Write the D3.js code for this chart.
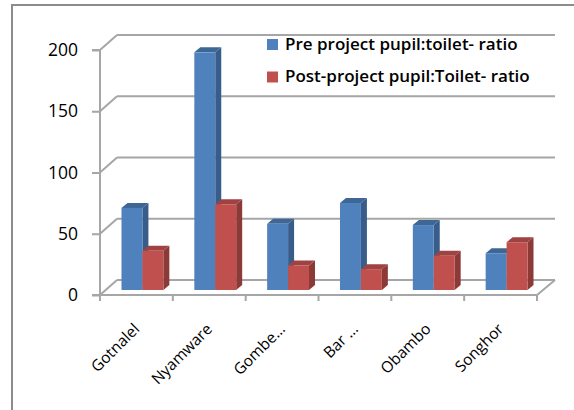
<!DOCTYPE html>
<html>
<head>
<meta charset="utf-8">
<script src="https://cdn.jsdelivr.net/npm/d3@7"></script>
<style>
  html, body { margin: 0; padding: 0; background: #fff; }
  svg { display: block; }
  text { font-family: "Open Sans", Lato, sans-serif; fill: #000; }
</style>
</head>
<body>
<svg id="chart" width="574" height="410"></svg>
<script>
// Pupil:toilet ratio per school, before and after the project
const schools = ["Gotnalel", "Nyamware", "Gombe…", "Bar …", "Obambo", "Songhor"];
const preProject = [67, 194, 54, 71, 53, 30];
const postProject = [32, 70, 20, 17, 28, 39];
const seriesNames = ["Pre project pupil:toilet- ratio", "Post-project pupil:Toilet- ratio"];
const yTicks = [0, 50, 100, 150, 200];

const frontColors = ["#4F81BD", "#C0504D"];
const sideColors = ["#385D8A", "#8C3A38"];
const topColors = ["#3E6796", "#9E4341"];

const svg = d3.select("#chart");

// outer chart frame (top and left edges)
svg.append("path")
  .attr("d", "M12,410 L12,5 L574,5")
  .attr("fill", "none").attr("stroke", "#8c8c8c").attr("stroke-width", 2);

// front plane geometry and depth offsets of the 3-D box
const x0 = 100, x1 = 537;
const wall = { dx: 17, dy: -15 };   // back wall offset
const barOff = { dx: 6, dy: -5 };   // bar front face offset
const barDepth = { dx: 6, dy: -5 }; // bar thickness

const y = d3.scaleLinear().domain([0, 200]).range([295, 50]);
const x = d3.scaleBand().domain(schools).range([x0, x1]);
const xs = d3.scaleBand().domain([0, 1]).range([0, x.bandwidth()]).paddingOuter(0.74).paddingInner(0);

const grid = svg.append("g").attr("stroke", "#a6a6a6").attr("stroke-width", 2).attr("fill", "none");

// back wall gridlines and left wall diagonals
yTicks.forEach(v => {
  grid.append("line")
    .attr("x1", x0 + wall.dx).attr("x2", x1 + wall.dx + 1)
    .attr("y1", y(v) + wall.dy).attr("y2", y(v) + wall.dy);
  grid.append("line")
    .attr("x1", x0).attr("y1", y(v))
    .attr("x2", x0 + wall.dx).attr("y2", y(v) + wall.dy);
});
// floor front edge and right edge
grid.append("path")
  .attr("d", `M${x0},${y(0)} L${x1},${y(0)} L${x1 + wall.dx + 1},${y(0) + wall.dy}`);

// value axis
const yAxis = d3.axisLeft(y).tickValues(yTicks).tickSize(8).tickPadding(14);
const ya = svg.append("g").attr("transform", `translate(${x0},0)`).call(yAxis);
ya.select(".domain").attr("stroke", "#a6a6a6").attr("stroke-width", 2).attr("d", `M-8,${y(200)}H0V${y(0)}H-8`);
ya.selectAll(".tick line").attr("stroke", "#a6a6a6").attr("stroke-width", 2);
ya.selectAll(".tick text").attr("font-size", 17.5).attr("font-family", "'Open Sans', sans-serif").attr("fill", "#000");

// category axis ticks
const xa = svg.append("g").attr("transform", `translate(0,${y(0)})`);
const bounds = schools.map((s, i) => x0 + i * x.step()).concat([x1]);
xa.selectAll("line").data(bounds).join("line")
  .attr("x1", d => d).attr("x2", d => d).attr("y1", 0).attr("y2", 6)
  .attr("stroke", "#a6a6a6").attr("stroke-width", 2);

// category labels
svg.append("g").selectAll("text").data(schools).join("text")
  .attr("transform", d => `translate(${x(d) + x.bandwidth() / 2 + 4},330) rotate(-45)`)
  .attr("text-anchor", "end")
  .attr("font-size", 15.5)
  .text(d => d);

// 3-D bars
const series = [preProject, postProject];
const bars = svg.append("g");
schools.forEach((s, i) => {
  series.forEach((vals, k) => {
    const v = vals[i];
    const left = x(s) + xs(k) + barOff.dx;
    const right = left + xs.bandwidth();
    const base = y(0) + barOff.dy;
    const top = y(v) + barOff.dy;
    const dx = barDepth.dx, dy = barDepth.dy;
    bars.append("path")
      .attr("d", `M${right},${top} L${right + dx},${top + dy} L${right + dx},${base + dy} L${right},${base} Z`)
      .attr("fill", sideColors[k]);
    bars.append("path")
      .attr("d", `M${left},${top} L${left + dx},${top + dy} L${right + dx},${top + dy} L${right},${top} Z`)
      .attr("fill", topColors[k]);
    bars.append("rect")
      .attr("x", left).attr("y", top)
      .attr("width", right - left).attr("height", base - top)
      .attr("fill", frontColors[k]);
  });
});

// legend
const legend = svg.append("g");
seriesNames.forEach((name, k) => {
  const ly = 39 + k * 32.5;
  legend.append("rect").attr("x", 267).attr("y", ly).attr("width", 11).attr("height", 11).attr("fill", frontColors[k]);
  legend.append("text").attr("x", 285).attr("y", ly + 10.5)
    .attr("font-size", 17).attr("font-weight", 600).text(name);
});
</script>
</body>
</html>
